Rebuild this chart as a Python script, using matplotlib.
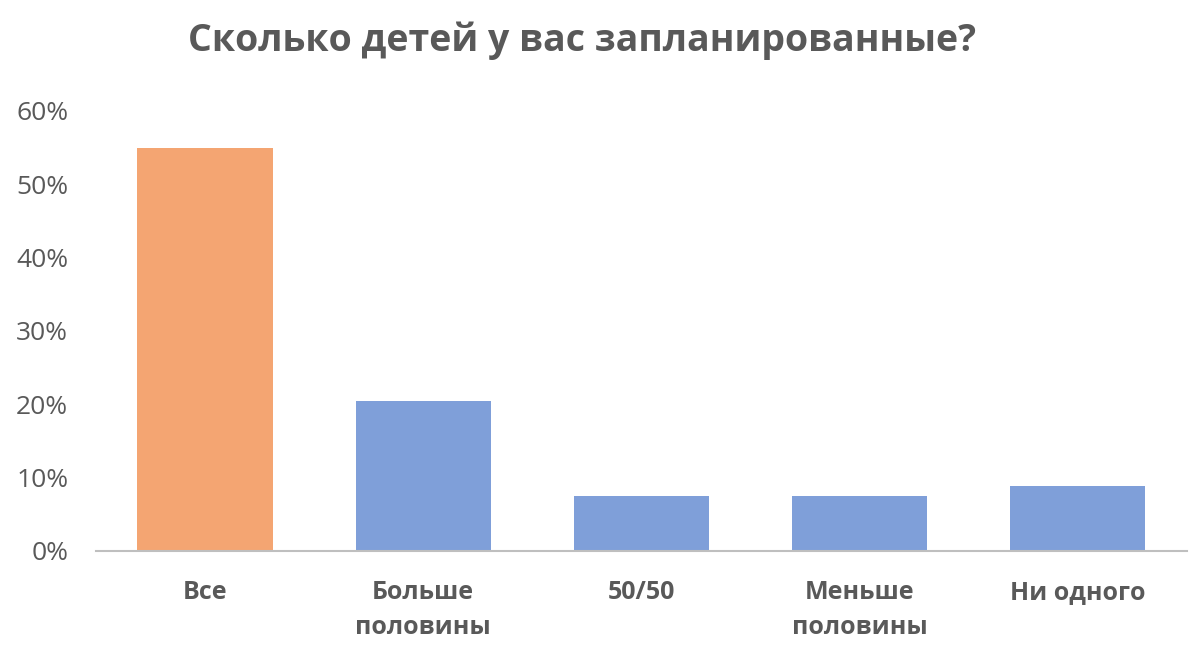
import matplotlib
matplotlib.use("Agg")
import matplotlib.pyplot as plt
from matplotlib.ticker import FuncFormatter

categories = ["Все", "Больше\nполовины", "50/50", "Меньше\nполовины", "Ни одного"]
values = [55.0, 20.5, 7.5, 7.5, 8.8]
colors = ["#F4A572", "#7F9FD9", "#7F9FD9", "#7F9FD9", "#7F9FD9"]
yticks = [0, 10, 20, 30, 40, 50, 60]
title = "Сколько детей у вас запланированные?"

plt.rcParams['font.family'] = ['Open Sans', 'DejaVu Sans']
fig = plt.figure(figsize=(12, 6.52), dpi=100)
ax = fig.add_axes([0.08, 0.155, 0.909, 0.675])
x = list(range(len(categories)))
ax.bar(x, values, width=0.62, color=colors, zorder=2)
ax.set_xlim(-0.5, len(categories) - 0.5)
ax.set_ylim(0, 60)
ax.set_yticks(yticks)
ax.yaxis.set_major_formatter(FuncFormatter(lambda v, p: f"{int(v)}%"))
ax.set_xticks(x)
ax.set_xticklabels(categories, fontsize=18, fontweight='bold', color='#595959', linespacing=1.5, va='top')
ax.tick_params(axis='y', length=0, pad=20, labelsize=19, labelcolor='#595959')
ax.tick_params(axis='x', length=0, pad=21)
for s in ['top', 'right', 'left']:
    ax.spines[s].set_visible(False)
ax.spines['bottom'].set_color('#BFBFBF')
ax.spines['bottom'].set_linewidth(1.5)
fig.text(0.485, 0.938, title, ha='center', va='center', fontsize=27, fontweight='bold', color='#595959')
fig.savefig("out.png", dpi=100, facecolor='white')
